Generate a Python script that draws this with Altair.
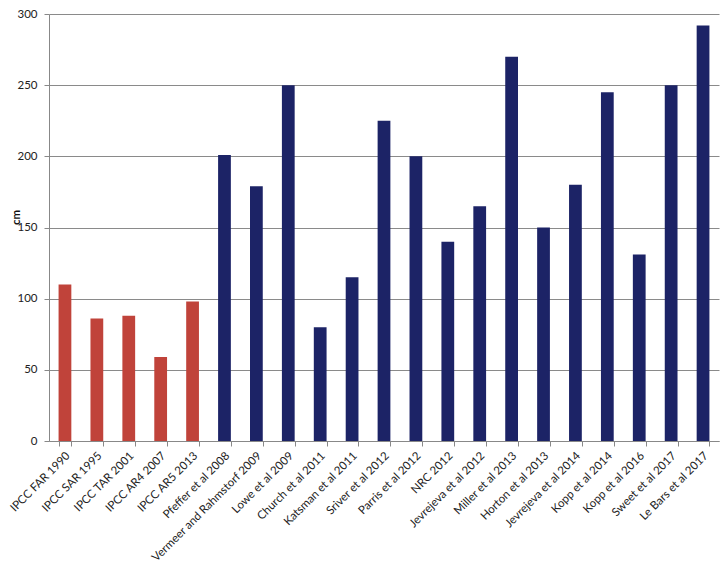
import altair as alt
import pandas as pd

studies = ["IPCC FAR 1990", "IPCC SAR 1995", "IPCC TAR 2001", "IPCC AR4 2007", "IPCC AR5 2013",
           "Pfeffer et al 2008", "Vermeer and Rahmstorf 2009", "Lowe et al 2009", "Church et al 2011",
           "Katsman et al 2011", "Sriver et al 2012", "Parris et al 2012", "NRC 2012",
           "Jevrejeva et al 2012", "Miller et al 2013", "Horton et al 2013", "Jevrejeva et al 2014",
           "Kopp et al 2014", "Kopp et al 2016", "Sweet et al 2017", "Le Bars et al 2017"]
values = [110, 86, 88, 59, 98,
          201, 179, 250, 80, 115, 225, 200, 140, 165, 270, 150, 180, 245, 131, 250, 292]
groups = ["IPCC"] * 5 + ["Other"] * 16

df = pd.DataFrame({"study": studies, "cm": values, "group": groups})

chart = alt.Chart(df).mark_bar().encode(
    x=alt.X("study:N", sort=studies, title=None,
            scale=alt.Scale(paddingInner=0.6, paddingOuter=0.3),
            axis=alt.Axis(labelAngle=-45, labelAlign="right", labelBaseline="middle",
                          labelFont="Lato", labelFontSize=11.5, labelColor="#222",
                          labelPadding=8, labelOffset=3, tickBand="extent", tickSize=5,
                          tickColor="#888", domainColor="#888", labelOverlap=False,
                          labelBound=False)),
    y=alt.Y("cm:Q", title="cm", scale=alt.Scale(domain=[0, 300], nice=False),
            axis=alt.Axis(values=[0, 50, 100, 150, 200, 250, 300], labelFont="Lato",
                          labelFontSize=11.5, labelColor="#222", labelPadding=7, tickSize=5,
                          tickColor="#888", domainColor="#888", gridColor="#8a8a8a", gridWidth=1,
                          titleFont="Lato", titleFontSize=11.5, titleFontWeight="bold",
                          titleColor="#111", titleX=-30, titleY=203,
                          titleBaseline="alphabetic")),
    color=alt.Color("group:N", scale=alt.Scale(domain=["IPCC", "Other"], range=["#C0433A", "#1C2366"]),
                    legend=None),
).properties(
    width=670, height=427,
    padding={"left": 41, "top": 6, "right": 1, "bottom": 125},
    autosize=alt.AutoSizeParams(type="none"),
).configure_view(stroke=None)

chart.save("out.html", embed_options={"renderer": "svg", "actions": False})
